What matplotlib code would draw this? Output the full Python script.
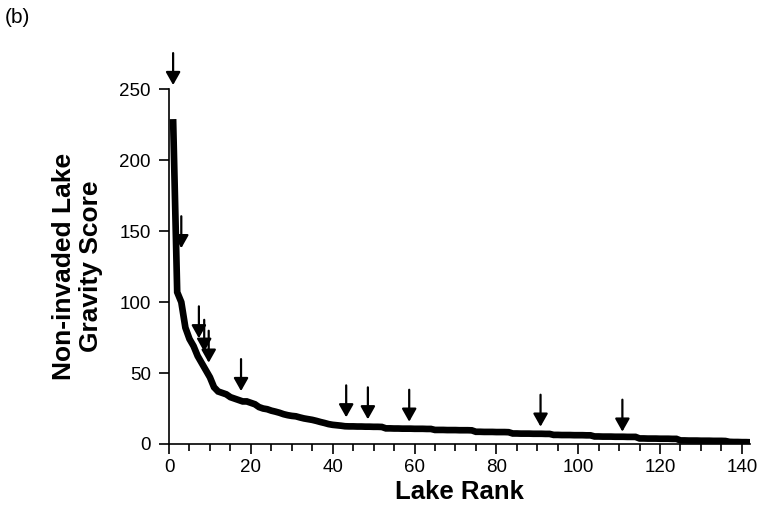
import matplotlib
matplotlib.use("Agg")
import matplotlib.pyplot as plt
from matplotlib.ticker import MultipleLocator

plt.rcParams['font.family'] = ['Liberation Sans', 'DejaVu Sans']

# Gravity score of non-invaded lakes, ordered by rank (1..142)
scores = [
    229, 107, 100, 82, 74, 69, 62, 57, 52, 47, 40, 37, 36, 35, 33, 32, 31, 30, 30, 29,
    28, 26, 25, 24.5, 23.5, 22.8, 22, 21, 20.3, 19.8, 19.5, 18.7, 18, 17.5, 17, 16.3,
    15.5, 14.8, 14, 13.5, 13.2, 12.9,
    12.5, 12.4, 12.4, 12.3, 12.3, 12.2, 12.2, 12.1, 12.1, 12.0,
    11.0, 11.0, 10.9, 10.9, 10.8, 10.8, 10.8, 10.7, 10.7, 10.7, 10.6, 10.6,
    9.9, 9.9, 9.9, 9.8, 9.8, 9.8, 9.7, 9.7, 9.7, 9.6,
    8.6, 8.6, 8.5, 8.5, 8.5, 8.4, 8.4, 8.4, 8.3,
    7.4, 7.4, 7.3, 7.3, 7.3, 7.2, 7.2, 7.2, 7.1, 7.1,
    6.4, 6.4, 6.3, 6.3, 6.3, 6.2, 6.2, 6.2, 6.1, 6.1,
    5.3, 5.3, 5.2, 5.2, 5.2, 5.1, 5.1, 5.1, 5.0, 5.0, 5.0,
    3.9, 3.9, 3.8, 3.8, 3.8, 3.7, 3.7, 3.7, 3.6, 3.6,
    2.5, 2.5, 2.4, 2.4, 2.4, 2.3, 2.3, 2.3, 2.2, 2.2, 2.2, 2.1,
    1.5, 1.4, 1.4, 1.3, 1.3, 1.2,
]
ranks = list(range(1, len(scores) + 1))

# Arrows marking lakes (rank, score at arrow tip)
arrow_ranks = [1, 3, 7.3, 8.6, 9.7, 17.6, 43.3, 48.6, 58.7, 90.8, 110.8]
arrow_tips = [253, 138, 74.5, 65, 57.3, 37.3, 18.8, 17.4, 15.7, 12.2, 8.7]

xticks = [0, 20, 40, 60, 80, 100, 120, 140]
yticks = [0, 50, 100, 150, 200, 250]

fig = plt.figure(figsize=(7.61, 5.15), dpi=100)
ax = fig.add_axes([0.2221, 0.1379, 0.7635, 0.6887])

ax.plot(ranks, scores, color='black', lw=4.8, solid_joinstyle='miter',
        solid_capstyle='butt')

for r, t in zip(arrow_ranks, arrow_tips):
    ax.annotate('', xy=(r, t), xytext=(0, 23), textcoords='offset points',
                annotation_clip=False,
                arrowprops=dict(arrowstyle='-|>,head_length=0.78,head_width=0.44',
                                color='black', lw=1.6, shrinkA=0, shrinkB=0))

ax.set_xlim(0, 142)
ax.set_ylim(0, 250)
ax.set_xticks(xticks)
ax.set_yticks(yticks)
ax.xaxis.set_minor_locator(MultipleLocator(5))
ax.tick_params(axis='both', which='major', direction='out', length=7, width=1.2,
               labelsize=13.5, colors='black')
ax.tick_params(axis='x', which='minor', direction='out', length=5, width=1.2)
ax.tick_params(axis='x', pad=4)
ax.tick_params(axis='y', pad=6)

for s in ['top', 'right']:
    ax.spines[s].set_visible(False)
for s in ['left', 'bottom']:
    ax.spines[s].set_linewidth(1.2)

ax.set_xlabel('Lake Rank', fontsize=18.5, fontweight='bold', labelpad=3)
ax.set_ylabel('Non-invaded Lake\nGravity Score', fontsize=19, fontweight='bold',
              labelpad=12, linespacing=1.15)

fig.text(0.006, 0.985, '(b)', fontsize=15, va='top', ha='left')

fig.savefig('out.png', dpi=100)
